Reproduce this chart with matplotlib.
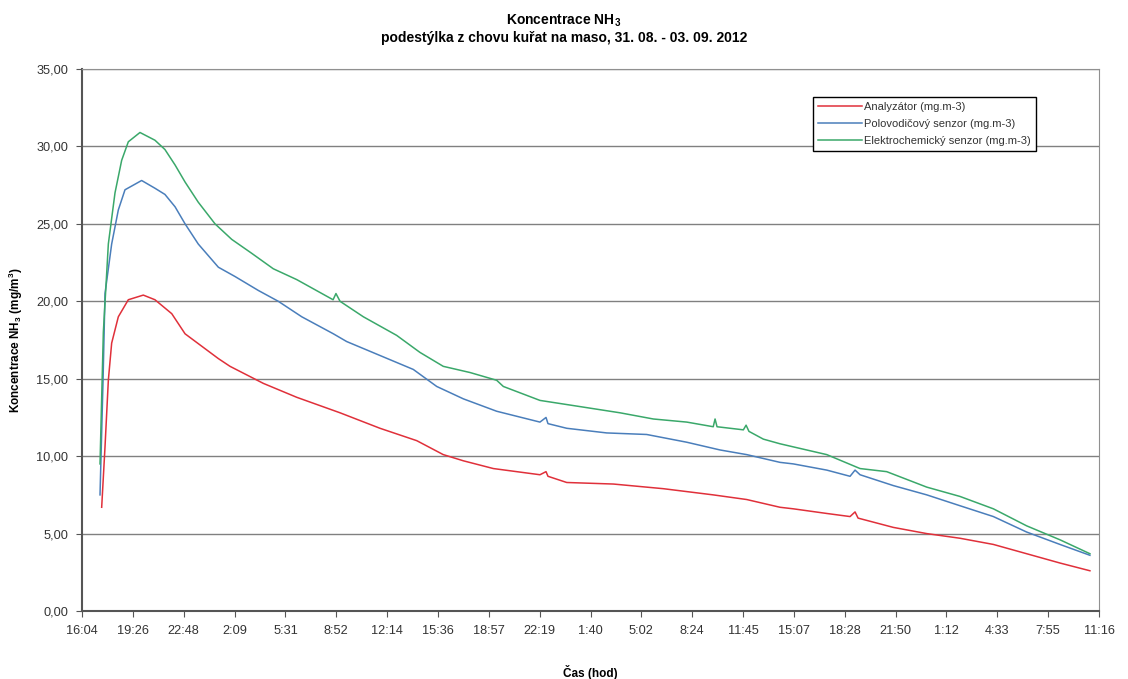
import matplotlib.pyplot as plt

plt.rcParams["font.family"] = ["Liberation Sans", "DejaVu Sans"]
plt.rcParams["font.size"] = 8.5
plt.rcParams["mathtext.default"] = "regular"

# hours since 16:04 (31. 08.)
red_t = [1.30, 1.52, 1.74, 1.96, 2.40, 3.06, 4.05, 4.82, 5.93, 6.81, 7.91, 9.01,
         9.78, 11.98, 14.19, 17.05, 19.69, 22.12, 23.87, 25.20, 27.18, 30.26,
         30.66, 30.79, 32.03, 35.11, 38.41, 41.71, 43.92, 46.12, 47.00, 49.21,
         50.75, 51.08, 51.28, 53.61, 55.82, 58.01, 60.22, 62.42, 64.62, 66.60]
red_v = [6.7, 10.6, 14.9, 17.3, 19.0, 20.1, 20.4, 20.1, 19.2, 17.9, 17.1, 16.3,
         15.8, 14.7, 13.8, 12.8, 11.8, 11.0, 10.1, 9.7, 9.2, 8.8,
         9.0, 8.7, 8.3, 8.2, 7.9, 7.5, 7.2, 6.7, 6.6, 6.3,
         6.1, 6.4, 6.0, 5.4, 5.0, 4.7, 4.3, 3.7, 3.1, 2.6]

blue_t = [1.19, 1.39, 1.52, 1.96, 2.40, 2.84, 3.94, 4.82, 5.48, 6.15, 6.81, 7.68,
          9.01, 10.11, 11.65, 12.97, 14.52, 16.61, 17.49, 19.69, 21.89, 23.44,
          25.20, 27.40, 30.26, 30.66, 30.79, 32.03, 34.67, 37.31, 39.96, 42.16,
          43.92, 46.12, 47.00, 49.21, 50.75, 51.08, 51.41, 53.61, 55.82, 58.01,
          60.22, 62.42, 64.62, 66.60]
blue_v = [7.5, 14.9, 20.5, 23.7, 25.9, 27.2, 27.8, 27.3, 26.9, 26.1, 25.0, 23.7,
          22.2, 21.6, 20.7, 20.0, 19.0, 17.9, 17.4, 16.5, 15.6, 14.5,
          13.7, 12.9, 12.2, 12.5, 12.1, 11.8, 11.5, 11.4, 10.9, 10.4,
          10.1, 9.6, 9.5, 9.1, 8.7, 9.1, 8.8, 8.1, 7.5, 6.8,
          6.1, 5.1, 4.3, 3.6]

green_t = [1.19, 1.41, 1.74, 2.18, 2.62, 3.06, 3.83, 4.82, 5.48, 6.15, 6.81, 7.68,
           8.79, 9.89, 11.21, 12.64, 14.19, 16.59, 16.78, 17.05, 18.59, 20.79,
           22.33, 23.87, 25.64, 27.40, 27.84, 30.26, 32.91, 35.55, 37.75, 39.96,
           41.71, 41.83, 41.96, 43.70, 43.88, 44.07, 45.02, 46.12, 47.00, 49.21,
           51.41, 53.17, 55.82, 58.01, 60.22, 62.42, 64.62, 66.60]
green_v = [9.5, 18.0, 23.7, 27.0, 29.1, 30.3, 30.9, 30.4, 29.8, 28.8, 27.7, 26.4,
           25.0, 24.0, 23.1, 22.1, 21.4, 20.1, 20.5, 20.0, 19.0, 17.8,
           16.7, 15.8, 15.4, 14.9, 14.5, 13.6, 13.2, 12.8, 12.4, 12.2,
           11.9, 12.4, 11.9, 11.7, 12.0, 11.6, 11.1, 10.8, 10.6, 10.1,
           9.2, 9.0, 8.0, 7.4, 6.6, 5.5, 4.6, 3.7]

x_labels = ["16:04", "19:26", "22:48", "2:09", "5:31", "8:52", "12:14", "15:36",
            "18:57", "22:19", "1:40", "5:02", "8:24", "11:45", "15:07", "18:28",
            "21:50", "1:12", "4:33", "7:55", "11:16"]
step = 3.36

fig = plt.figure(figsize=(11.28, 6.79), dpi=100)
ax = fig.add_axes([0.0727, 0.1001, 0.9016, 0.7983])

ax.plot(red_t, red_v, color="#e0303a", lw=1.1, label="Analyzátor (mg.m-3)")
ax.plot(blue_t, blue_v, color="#4a7ebb", lw=1.1, label="Polovodičový senzor (mg.m-3)")
ax.plot(green_t, green_v, color="#3aa86a", lw=1.1, label="Elektrochemický senzor (mg.m-3)")

ax.set_xlim(0, step * 20)
ax.set_ylim(0, 35)
ax.set_xticks([i * step for i in range(21)])
ax.set_xticklabels(x_labels)
ax.set_yticks(range(0, 36, 5))
ax.set_yticklabels(["%d,00" % v for v in range(0, 36, 5)])
ax.yaxis.grid(True, color="#808080", lw=1)
ax.set_axisbelow(True)
ax.tick_params(direction="out", length=4, color="#555555", labelcolor="#333333",
               labelsize=9.2, pad=6)

for side in ("left", "bottom"):
    ax.spines[side].set_color("#555555")
    ax.spines[side].set_linewidth(1.5)
ax.spines["right"].set_color("#909090")
ax.spines["top"].set_color("#909090")

ax.set_xlabel("Čas (hod)", fontweight="bold", fontsize=8.5)
ax.xaxis.set_label_coords(0.5, -0.1)
ax.set_ylabel("Koncentrace NH$_3$ (mg/m$^3$)", fontweight="bold", fontsize=8.5, labelpad=8)
fig.suptitle("Koncentrace NH$_3$\npodestýlka z chovu kuřat na maso, 31. 08. - 03. 09. 2012",
             fontweight="bold", fontsize=10, y=0.982)

leg = ax.legend(loc="upper left", bbox_to_anchor=(0.713, 0.958), fontsize=8,
                fancybox=False, edgecolor="black", framealpha=1,
                handlelength=4, handletextpad=0.2, borderpad=0.45, labelspacing=0.6)
leg.get_frame().set_linewidth(1.0)
for t in leg.get_texts():
    t.set_color("#333333")

fig.savefig("out.png", dpi=100)
